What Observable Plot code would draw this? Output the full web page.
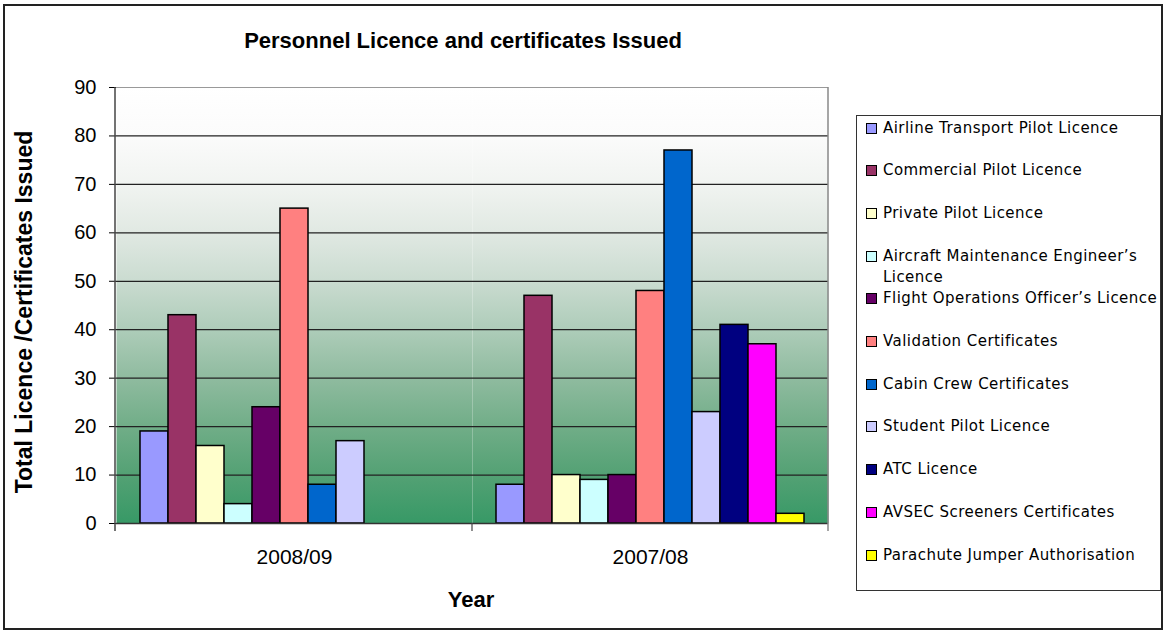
<!DOCTYPE html>
<html><head><meta charset="utf-8">
<script src="https://cdn.jsdelivr.net/npm/d3@7"></script>
<script src="https://cdn.jsdelivr.net/npm/@observablehq/plot@0.6"></script>
<style>
body{margin:0;background:#fff;}
#wrap{position:relative;width:1166px;height:631px;overflow:hidden;font-family:"Liberation Sans",Arial,sans-serif;color:#000;}
#border{position:absolute;left:3px;top:4px;width:1160px;height:626px;border:2px solid #222;box-sizing:border-box;pointer-events:none;z-index:5;}
#chart{position:absolute;left:0;top:0;}
#title{position:absolute;left:463px;top:41px;transform:translate(-50%,-50%);white-space:nowrap;font-weight:bold;font-size:22px;}
#ylabel{position:absolute;left:24px;top:312px;transform:translate(-50%,-50%) rotate(-90deg);white-space:nowrap;font-weight:bold;font-size:23px;}
#xlabel{position:absolute;left:471px;top:600px;transform:translate(-50%,-50%);font-weight:bold;font-size:22px;}
#legend{position:absolute;left:856px;top:115px;width:305px;height:476px;border:1px solid #333;box-sizing:border-box;font-family:"DejaVu Sans",sans-serif;font-size:15px;letter-spacing:0.45px;}
.item{position:absolute;left:9px;display:flex;align-items:flex-start;line-height:21px;width:300px;}
.sw{width:9px;height:9px;border:1.5px solid #000;margin-top:5px;margin-right:6px;flex:none;}
.tx{width:280px;}
</style></head>
<body>
<div id="wrap">
  <div id="chart"></div>
  <div id="title">Personnel Licence and certificates Issued</div>
  <div id="ylabel">Total Licence /Certificates Issued</div>
  <div id="xlabel">Year</div>
  <div id="legend"></div>
  <div id="border"></div>
</div>
<script>
const years = ["2008/09", "2007/08"];
const categories = [
  "Airline Transport Pilot Licence",
  "Commercial Pilot Licence",
  "Private Pilot Licence",
  "Aircraft Maintenance Engineer\u2019s Licence",
  "Flight Operations Officer\u2019s Licence",
  "Validation Certificates",
  "Cabin Crew Certificates",
  "Student Pilot Licence",
  "ATC Licence",
  "AVSEC Screeners Certificates",
  "Parachute Jumper Authorisation"
];
const values2008_09 = [19, 43, 16, 4, 24, 65, 8, 17, null, null, null];
const values2007_08 = [8, 47, 10, 9, 10, 48, 77, 23, 41, 37, 2];
const colors = ["#9999ff", "#993366", "#ffffcc", "#ccffff", "#660066", "#ff8080", "#0066cc", "#ccccff", "#000080", "#ff00ff", "#ffff00"];
const yTicks = [0, 10, 20, 30, 40, 50, 60, 70, 80, 90];

const seriesByYear = [values2008_09, values2007_08];
const rows = [];
years.forEach((yr, j) => categories.forEach((c, i) => {
  const v = seriesByYear[j][i];
  if (v != null) rows.push({year: yr, cat: c, value: v});
}));

const plot = Plot.plot({
  width: 850,
  height: 631,
  marginTop: 87,
  marginBottom: 108,
  marginLeft: 115,
  marginRight: 22,
  style: {background: "transparent", fontFamily: "Liberation Sans, Arial, sans-serif", fontSize: "20px", color: "#000", overflow: "visible"},
  fx: {domain: years, padding: 0, label: null, axis: null},
  x: {domain: categories, paddingInner: 0, paddingOuter: 0.75, axis: null},
  y: {domain: [0, 90], axis: null},
  color: {domain: categories, range: colors},
  marks: [
    Plot.frame({fill: "url(#bg)", stroke: "none"}),
    Plot.gridY(yTicks.slice(1, -1), {stroke: "#222", strokeOpacity: 1, strokeWidth: 1.2}),
    Plot.ruleY([90], {stroke: "#999", strokeWidth: 1.2}),
    Plot.barY(rows, {fx: "year", x: "cat", y: "value", fill: "cat", stroke: "#000", strokeWidth: 1.5}),
    Plot.ruleY([0], {stroke: "#333", strokeWidth: 1.5}),
    Plot.axisY({ticks: yTicks, tickSize: 7, tickPadding: 13, fontSize: 20, label: null, anchor: "left"}),
    Plot.axisFx({anchor: "bottom", tickSize: 0, tickPadding: 26, fontSize: 21, label: null})
  ]
});

const svg = d3.select(plot);
const defs = svg.insert("defs", ":first-child");
const grad = defs.append("linearGradient").attr("id", "bg").attr("x1", 0).attr("y1", 0).attr("x2", 0).attr("y2", 1);
[[0, "#ffffff"], [0.11, "#fbfbfb"], [0.22, "#f1f4f1"], [0.33, "#e1e9e3"], [0.44, "#cbdcd1"],
 [0.55, "#afcdba"], [0.667, "#8fbb9f"], [0.78, "#70ad87"], [0.89, "#53a174"], [1, "#379966"]]
  .forEach(([o, c]) => grad.append("stop").attr("offset", o).attr("stop-color", c));

const fx = plot.scale("fx"), y = plot.scale("y");
const [fx0, fx1] = fx.range;
const [yb, yt] = y.range;
const g = svg.append("g");
g.append("line").attr("x1", fx0).attr("x2", fx0).attr("y1", yt).attr("y2", yb + 8).attr("stroke", "#444").attr("stroke-width", 1.5);
g.append("line").attr("x1", fx1).attr("x2", fx1).attr("y1", yt).attr("y2", yb + 8).attr("stroke", "#888").attr("stroke-width", 1.5);
years.slice(1).forEach(yr => {
  const bx = fx.apply(yr);
  g.append("line").attr("x1", bx).attr("x2", bx).attr("y1", yb).attr("y2", yb + 8).attr("stroke", "#444").attr("stroke-width", 1.2);
});

document.getElementById("chart").appendChild(plot);

const legend = document.getElementById("legend");
categories.forEach((c, i) => {
  const it = document.createElement("div");
  it.className = "item";
  it.style.top = (1.5 + i * 42.7) + "px";
  const sw = document.createElement("div");
  sw.className = "sw";
  sw.style.background = colors[i];
  const tx = document.createElement("div");
  tx.className = "tx";
  tx.textContent = c;
  it.appendChild(sw); it.appendChild(tx);
  legend.appendChild(it);
});
</script>
</body></html>
